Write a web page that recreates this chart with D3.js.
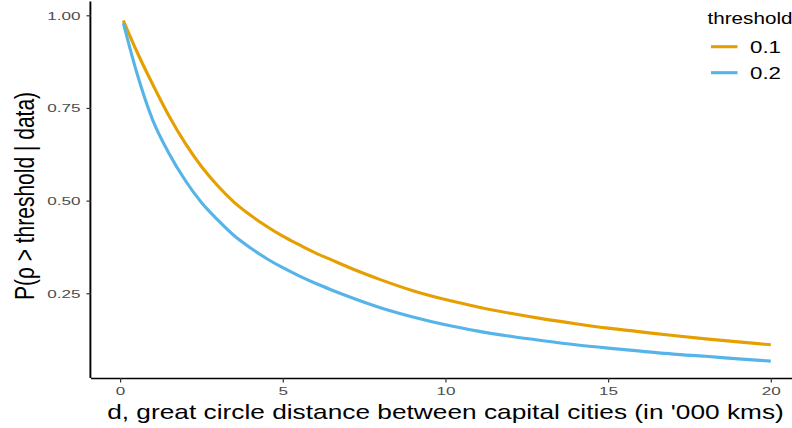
<!DOCTYPE html>
<html>
<head>
<meta charset="utf-8">
<script src="https://cdn.jsdelivr.net/npm/d3@7"></script>
<style>
  html, body { margin: 0; padding: 0; background: #fff; }
  svg { display: block; font-family: "Liberation Sans", Arial, sans-serif; }
</style>
</head>
<body>
<svg id="chart" width="792" height="428"></svg>
<script>
// distance in '000 km
const distances = [0.1, 0.5, 1.0, 1.5, 2.0, 2.5, 3.0, 3.5, 4.0, 4.5, 5.0, 5.5, 6.0, 6.5, 7.0, 8.0, 9.0, 10.0, 11.0, 12.0, 13.0, 14.0, 15.0, 16.0, 17.0, 18.0, 19.0, 20.0];
// P(rho > 0.1 | data)
const series01 = [0.986, 0.905, 0.814, 0.729, 0.655, 0.592, 0.540, 0.496, 0.461, 0.431, 0.404, 0.381, 0.359, 0.340, 0.321, 0.287, 0.257, 0.233, 0.213, 0.196, 0.181, 0.168, 0.156, 0.146, 0.136, 0.127, 0.119, 0.111];
// P(rho > 0.2 | data)
const series02 = [0.979, 0.849, 0.718, 0.628, 0.555, 0.495, 0.448, 0.406, 0.373, 0.344, 0.319, 0.297, 0.277, 0.259, 0.242, 0.211, 0.186, 0.165, 0.148, 0.134, 0.122, 0.111, 0.102, 0.094, 0.086, 0.080, 0.073, 0.067];
const seriesNames = ["0.1", "0.2"];
const seriesColors = ["#E69F00", "#56B4E9"];
const xTicks = [0, 5, 10, 15, 20];
const yTicks = [0.25, 0.50, 0.75, 1.00];

(function () {
const svg = d3.select("#chart");
const pLeft = 91, pRight = 804, pTop = 1.6, pBottom = 378;

const x = d3.scaleLinear().domain([0, 20]).range([120.1, 770.8]);
const y = d3.scaleLinear().domain([0.25, 1.0]).range([293.3, 15.3]);

const allSeries = [series01, series02];
const line = d3.line()
  .x((d, i) => x(distances[i]))
  .y(d => y(d))
  .curve(d3.curveMonotoneX);

svg.append("g").selectAll("path").data(allSeries).join("path")
  .attr("d", d => line(d))
  .attr("fill", "none")
  .attr("stroke", (d, i) => seriesColors[i])
  .attr("stroke-width", 3.1)
  .attr("stroke-linecap", "butt");

// horizontally stretched text helper (reference text is wide)
function stretch(sel, tx, ty, target, extra) {
  const w = sel.node().getComputedTextLength();
  const sx = target / w;
  sel.attr("x", 0).attr("y", 0)
     .attr("transform", `translate(${tx},${ty})${extra || ""} scale(${sx},1)`);
}

// axes
const xAxis = svg.append("g").attr("transform", `translate(0,${pBottom})`)
  .call(d3.axisBottom(x).tickValues(xTicks).tickFormat(d3.format("d")).tickSizeOuter(0).tickSize(4.5).tickPadding(4.5));
const yAxis = svg.append("g").attr("transform", `translate(${pLeft},0)`)
  .call(d3.axisLeft(y).tickValues(yTicks).tickFormat(d3.format(".2f")).tickSizeOuter(0).tickSize(4.5).tickPadding(6));

xAxis.select(".domain").attr("stroke", "#000").attr("stroke-width", 1.5).attr("d", `M${pLeft},0.5H${pRight}`);
yAxis.select(".domain").attr("stroke", "#000").attr("stroke-width", 1.9).attr("d", `M-0.6,${pTop}V${pBottom}`);
[xAxis, yAxis].forEach(g => {
  g.selectAll(".tick line").attr("stroke", "#333").attr("stroke-width", 1.2);
  g.selectAll(".tick text").attr("fill", "#4d4d4d").style("font-size", "11.8px")
    .style("font-family", "'Liberation Sans', Arial, sans-serif");
});
const tickSX = 1.45;
xAxis.selectAll(".tick text").each(function () {
  const t = d3.select(this);
  t.attr("transform", `translate(0,${t.attr("y")}) scale(${tickSX},1)`).attr("y", 0);
});
yAxis.selectAll(".tick text").each(function () {
  const t = d3.select(this);
  t.attr("transform", `translate(${t.attr("x")},0) scale(${tickSX},1)`).attr("x", 0);
});

// axis titles
const xt = svg.append("text")
  .attr("text-anchor", "middle")
  .style("font-size", "20px").attr("fill", "#000")
  .text("d, great circle distance between capital cities (in '000 kms)");
stretch(xt, 445.5, 419, 677);

svg.append("text")
  .attr("text-anchor", "middle")
  .style("font-size", "21px").attr("fill", "#000")
  .attr("transform", `translate(33.5,${(15 + 378) / 2 - 0.5}) rotate(-90) scale(1,1.3)`)
  .text("P(ρ > threshold | data)");

// legend
const lg = svg.append("g");
const lt = lg.append("text").style("font-size", "16px").attr("fill", "#000").text("threshold");
stretch(lt, 707.5, 24, 85);
seriesNames.forEach((n, i) => {
  const yy = 46.7 + i * 26;
  lg.append("line").attr("x1", 711).attr("x2", 737.5).attr("y1", yy).attr("y2", yy)
    .attr("stroke", seriesColors[i]).attr("stroke-width", 3.1);
  const tx = lg.append("text").style("font-size", "17px").attr("fill", "#000").text(n);
  stretch(tx, 750, yy + 6.3, 31);
});
})();
</script>
</body>
</html>
